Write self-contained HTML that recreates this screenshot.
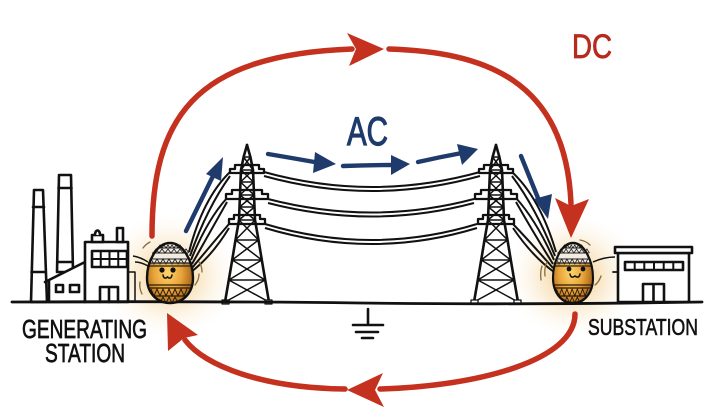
<!DOCTYPE html>
<html><head><meta charset="utf-8">
<style>
html,body{margin:0;padding:0;background:#fff;}
svg{display:block;}
text{font-family:"Liberation Sans",sans-serif;}
</style></head>
<body>
<svg width="715" height="416" viewBox="0 0 715 416" xmlns="http://www.w3.org/2000/svg">
<defs>
  <radialGradient id="glow" cx="50%" cy="50%" r="50%">
    <stop offset="0" stop-color="#efb955" stop-opacity="0.85"/>
    <stop offset="0.45" stop-color="#f4d49a" stop-opacity="0.5"/>
    <stop offset="1" stop-color="#fdf3e2" stop-opacity="0"/>
  </radialGradient>
  <radialGradient id="gold" cx="45%" cy="50%" r="60%">
    <stop offset="0" stop-color="#ffd36a"/>
    <stop offset="0.5" stop-color="#e8a43a"/>
    <stop offset="1" stop-color="#9a5a16"/>
  </radialGradient>
  <g id="egg">
    <path d="M0,-30 C13,-30 23,-12 23,5 C23,20 13,30 0,30 C-13,30 -23,20 -23,5 C-23,-12 -13,-30 0,-30Z" fill="url(#gold)"/>
    <path d="M0,-30 C13,-30 20,-18 21.5,-10 L-21.5,-10 C-20,-18 -13,-30 0,-30Z" fill="#f1ebe2"/>
    <path d="M-18,-20 L18,-20 M-20,-14 L20,-14 M-13,-25 L13,-25" stroke="#222" stroke-width="1" fill="none"/>
    <path d="M-12,-25 l2,-3 l2,3 l2,-3 l2,3 l2,-3 l2,3 l2,-3 l2,3 l2,-3 l2,3 l2,-3 l2,3" stroke="#222" stroke-width="0.9" fill="none"/>
    <path d="M-17,-20 l3,-4 l3,4 l3,-4 l3,4 l3,-4 l3,4 l3,-4 l3,4 l3,-4 l3,4 l3,-4 l3,4 M-19,-14 l3,5 l3,-5 l3,5 l3,-5 l3,5 l3,-5 l3,5 l3,-5 l3,5 l3,-5 l3,5 l3,-5" stroke="#222" stroke-width="0.9" fill="none"/>
    <path d="M-22,-10 L22,-10 M-22.5,-7 L22.5,-7" stroke="#222" stroke-width="1.2"/>
    <path d="M-22,12 L22,12 M-21,15 L21,15 M-16,23 L16,23" stroke="#2a1a0a" stroke-width="1.2"/>
    <path d="M-19,16 l3,7 l3,-7 l3,7 l3,-7 l3,7 l3,-7 l3,7 l3,-7 l3,7 l3,-7 l3,7 l3,-7" stroke="#2a1a0a" stroke-width="1" fill="none"/>
    <path d="M-10,30 l3,-6 l3,6 l3,-6 l3,6 l3,-6 l3,6" stroke="#2a1a0a" stroke-width="1" fill="none"/>
    <path d="M0,-30 C13,-30 23,-12 23,5 C23,20 13,30 0,30 C-13,30 -23,20 -23,5 C-23,-12 -13,-30 0,-30Z" fill="none" stroke="#111" stroke-width="2.4"/>
  </g>
  <g id="tower" fill="none" stroke="#111" stroke-linejoin="round" stroke-linecap="round">
    <polyline stroke-width="2.6" points="0,0 -3.4,12 -6,25 -6.5,37 -7,50 -7.5,62 -8,75 -11.5,95 -14.8,115 -18.2,135 -22,157"/>
    <polyline stroke-width="2.6" points="0,0 3.4,12 6,25 6.5,37 7,50 7.5,62 8,75 11.5,95 14.8,115 18.2,135 22,157"/>
    <path stroke-width="1.5" d="
      M-3.4,12 L3.4,12 M-6,25 L6,25 M-6.5,37 L6.5,37 M-7,50 L7,50 M-7.5,62 L7.5,62 M-8,75 L8,75 M-11.5,95 L11.5,95 M-14.8,115 L14.8,115 M-18.2,135 L18.2,135
      M-3.4,12 L6,25 M3.4,12 L-6,25
      M-6,25 L6.5,37 M6,25 L-6.5,37
      M-6.5,37 L7,50 M6.5,37 L-7,50
      M-7,50 L7.5,62 M7,50 L-7.5,62
      M-7.5,62 L8,75 M7.5,62 L-8,75
      M-8,75 L11.5,95 M8,75 L-11.5,95
      M-11.5,95 L14.8,115 M11.5,95 L-14.8,115
      M-14.8,115 L18.2,135 M14.8,115 L-18.2,135
      M-18.2,135 L22,157 M18.2,135 L-22,157"/>
    <path stroke-width="2.3" d="M-12,20 L12,20 L12,24 L17,24 L17,28 L-17,28 L-17,24 L-12,24 Z"/>
    <path stroke-width="2.3" d="M-15,45 L15,45 L15,49 L21,49 L21,54 L-21,54 L-21,49 L-15,49 Z"/>
    <path stroke-width="2.3" d="M-13,70 L13,70 L13,74 L18,74 L18,79 L-18,79 L-18,74 L-13,74 Z"/>
    <rect x="-25" y="155" width="7" height="4" stroke-width="1.3" fill="#fff"/>
    <rect x="18" y="155" width="7" height="4" stroke-width="1.3" fill="#fff"/>
  </g>
</defs>

<rect width="715" height="416" fill="#fff"/>

<!-- glows -->
<ellipse cx="170" cy="276" rx="68" ry="62" fill="url(#glow)"/>
<ellipse cx="573" cy="276" rx="66" ry="62" fill="url(#glow)"/>

<!-- Generating station -->
<g fill="#fff" stroke="#111" stroke-width="2.6" stroke-linejoin="round" stroke-linecap="round">
  <path d="M34,190 L43,190 L47,302 L31,302 Z"/>
  <path d="M33,207 L44,207 M31.5,272 L45.5,272" fill="none"/>
  <path d="M59,175 L71,175 L73,272 L57,272 Z"/>
  <path d="M58.5,188 L71.5,188 M57.5,262 L72.5,262" fill="none"/>
  <path d="M45,282 L85,262 L85,302 L49,302 L49,280" />
  <rect x="56" y="285" width="7" height="7"/>
  <rect x="70" y="285" width="9" height="7"/>
  <rect x="85" y="242" width="43" height="60"/>
  <rect x="92" y="235" width="11" height="7"/>
  <path d="M95,235 C95,229 100,229 100,235" />
  <rect x="117" y="228" width="6" height="14"/>
  <rect x="92" y="251" width="35" height="16"/>
  <path d="M100.75,251 L100.75,267 M109.5,251 L109.5,267 M118.25,251 L118.25,267 M92,259 L127,259" fill="none" stroke-width="2"/>
  <path d="M100,302 L100,287 L118,287 L118,302 M109,287 L109,302" fill="none"/>
  <path d="M128,272 L135,272 L135,302" fill="none" stroke-width="1.5"/>
</g>

<!-- Substation -->
<g fill="#fff" stroke="#111" stroke-width="2.6" stroke-linejoin="round" stroke-linecap="round">
  <path d="M613,272 L618,272 L618,302" fill="none" stroke-width="1.8"/>
  <rect x="618" y="253" width="71" height="49"/>
  <rect x="615" y="247" width="77" height="6"/>
  <rect x="625" y="262" width="58" height="8"/>
  <path d="M634.7,262 L634.7,270 M644.3,262 L644.3,270 M654,262 L654,270 M663.7,262 L663.7,270 M673.3,262 L673.3,270" stroke-width="2"/>
  <path d="M643,302 L643,284 L664,284 L664,302 M653.5,284 L653.5,302" fill="none"/>
</g>

<!-- wires -->
<g fill="none" stroke="#111" stroke-width="2">
  <path d="M264,172 Q372,202 480,172"/>
  <path d="M264,176 Q372,206 480,176"/>
  <path d="M268,199 Q372,226 474,199"/>
  <path d="M268,203 Q372,230 474,203"/>
  <path d="M265,224 Q372,256 477,224"/>
  <path d="M265,228 Q372,260 477,228"/>
  <path d="M189,252 Q203,198 230,172"/>
  <path d="M190,256 Q207,208 230,176"/>
  <path d="M191,260 Q207,220 227,198"/>
  <path d="M192,264 Q210,232 227,202"/>
  <path d="M192,268 Q212,244 229,224"/>
  <path d="M191,272 Q212,256 229,228"/>
  <path d="M556,252 Q540,198 512,172"/>
  <path d="M555,256 Q536,208 512,176"/>
  <path d="M554,260 Q536,220 516,198"/>
  <path d="M553,264 Q533,232 516,202"/>
  <path d="M553,268 Q532,244 513,224"/>
  <path d="M554,272 Q532,256 513,228"/>
  <path d="M148,262 Q140,257 133,256" stroke-width="1.4"/>
  <path d="M148,266 Q141,262 135,262" stroke-width="1.4"/>
  <path d="M593,262 Q604,257 615,257" stroke-width="1.4"/>
</g>

<!-- towers -->
<use href="#tower" transform="translate(247,145)"/>
<use href="#tower" transform="translate(496,145)"/>

<!-- ground line -->
<path d="M12,302 Q200,301 360,303 T702,302" fill="none" stroke="#111" stroke-width="2.8" stroke-linecap="round"/>

<!-- ground symbol -->
<g stroke="#111" stroke-width="2.6" stroke-linecap="round">
  <path d="M368,309 L368,324"/>
  <path d="M353,325 L383,325"/>
  <path d="M356,332 L378,332"/>
  <path d="M362,338 L373,338"/>
</g>

<!-- eggs -->
<use href="#egg" transform="translate(170,273)"/>
<use href="#egg" transform="translate(573,273) scale(0.87,1)"/>
<g fill="#111">
  <circle cx="162" cy="270" r="2.6"/><circle cx="173" cy="270" r="2.6"/>
  <circle cx="569" cy="269" r="2.4"/><circle cx="583" cy="269" r="2.4"/>
</g>
<g fill="none" stroke="#111" stroke-width="1.5" stroke-linecap="round">
  <path d="M163,275 Q164,280 167.5,277 Q171,280 172,275"/>
  <path d="M570,274 Q571,279 575,276 Q579,279 580,274"/>
</g>
<g fill="none" stroke="#8a6a3a" stroke-width="1.3" stroke-linecap="round">
  <path d="M143,248 Q146,244 150,242"/>
  <path d="M140,282 Q139,288 142,294"/>
  <path d="M195,285 Q199,280 199,274"/>
  <path d="M199,262 Q202,266 202,272"/>
  <path d="M547,262 Q544,268 545,276"/>
  <path d="M542,266 Q540,272 541,280"/>
  <path d="M595,285 Q599,282 601,276"/>
  <path d="M580,240 Q586,241 590,245"/>
</g>

<!-- red DC arcs -->
<g fill="none" stroke="#c5311f" stroke-width="5.5" stroke-linecap="round">
  <path d="M152,236 C152,120 192,55 352,49"/>
  <path d="M389,49 C482,52 566,78 571,204"/>
  <path d="M575,314 C575,360 480,386 380,389"/>
  <path d="M345,389 C262,388 205,366 185,340"/>
</g>
<g fill="#c5311f">
  <path d="M384,49 L347,33 L356,49 L349,66 Z"/>
  <path d="M571,238 L555,198 L571,206 L589,199 Z"/>
  <path d="M347,390 L383,373 L375,390 L384,407 Z"/>
  <path d="M167,313 L198,335 L184,338 L168,351 Z"/>
</g>

<!-- blue AC arrows -->
<g fill="none" stroke="#1f3b6c" stroke-width="4.4" stroke-linecap="round">
  <path d="M186,231 L214,174"/>
  <path d="M268,154 Q292,158 320,163"/>
  <path d="M343,166 Q368,165 394,165"/>
  <path d="M418,162 Q440,157 462,153"/>
  <path d="M521,156 L540,203"/>
</g>
<g fill="#1f3b6c">
  <path d="M223,157 L221,181 L206,174 Z"/>
  <path d="M336,164 L315,152 L313,173 Z"/>
  <path d="M410,164 L391,155 L391,175 Z"/>
  <path d="M478,149 L457,144 L462,165 Z"/>
  <path d="M548,219 L534,199 L552,194 Z"/>
</g>

<!-- labels -->
<text x="347" y="145" font-size="40" fill="#1f3b6c" stroke="#1f3b6c" stroke-width="1.2" textLength="41" lengthAdjust="spacingAndGlyphs">AC</text>
<text x="572" y="58" font-size="34" fill="#b8291e" stroke="#b8291e" stroke-width="0.8" textLength="40" lengthAdjust="spacingAndGlyphs">DC</text>
<text x="22" y="338" font-size="26" fill="#111" stroke="#111" stroke-width="0.7" textLength="125" lengthAdjust="spacingAndGlyphs">GENERATING</text>
<text x="45" y="362" font-size="26" fill="#111" stroke="#111" stroke-width="0.7" textLength="80" lengthAdjust="spacingAndGlyphs">STATION</text>
<text x="588" y="335" font-size="23" fill="#111" stroke="#111" stroke-width="0.6" textLength="110" lengthAdjust="spacingAndGlyphs">SUBSTATION</text>
</svg>
</body></html>
